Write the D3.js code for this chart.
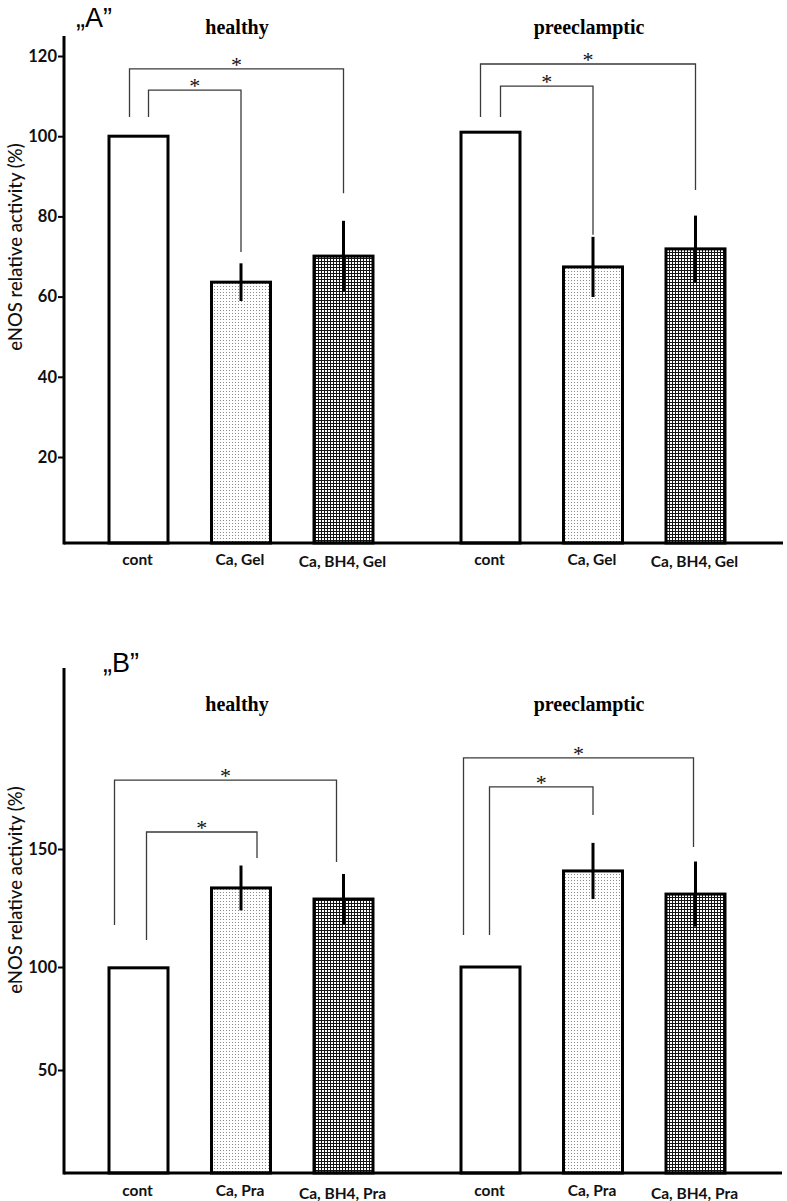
<!DOCTYPE html>
<html><head><meta charset="utf-8">
<script src="https://cdn.jsdelivr.net/npm/d3@7/dist/d3.min.js"></script>
<style>
html,body{margin:0;padding:0;background:#fff;}
svg{display:block;}
</style></head>
<body>
<script>
// ---------------- DATA ----------------
const groups = ["healthy", "preeclamptic"];
const categoriesA = ["cont", "Ca, Gel", "Ca, BH4, Gel"];
const categoriesB = ["cont", "Ca, Pra", "Ca, BH4, Pra"];

const valuesA_healthy = [100, 63.6, 70.1];
const errorsA_healthy = [0, 4.7, 8.8];
const valuesA_pre = [101, 67.4, 71.9];
const errorsA_pre = [0, 7.5, 8.3];

const valuesB_healthy = [99.6, 133.5, 128.8];
const errorsB_healthy = [0, 9.5, 10.6];
const valuesB_pre = [100, 140.7, 130.9];
const errorsB_pre = [0, 11.9, 13.8];

const ticksA = [20, 40, 60, 80, 100, 120];
const ticksB = [50, 100, 150];

// significance brackets: group index, bar from, bar to, level, end of left leg, end of right leg (values)
const bracketsA = [
  [0, 0, 1, 111.5, 104.8, 71.1],
  [0, 0, 2, 116.8, 104.8, 85.8],
  [1, 0, 1, 112.5, 104.8, 75.4],
  [1, 0, 2, 118.0, 104.8, 86.6]
];
const bracketsB = [
  [0, 0, 1, 157.2, 111.4, 146.2],
  [0, 0, 2, 179.2, 117.8, 144.5],
  [1, 0, 1, 176.3, 113.6, 164.4],
  [1, 0, 2, 188.6, 113.6, 150.8]
];

// ---------------- LAYOUT ----------------
const W = 787, H = 1201;
const svg = d3.select("body").append("svg").attr("width", W).attr("height", H);

const defs = svg.append("defs");
const dots = defs.append("pattern").attr("id", "dots").attr("patternUnits", "userSpaceOnUse")
  .attr("width", 3).attr("height", 3);
dots.append("rect").attr("width", 3).attr("height", 3).attr("fill", "#fff");
dots.append("rect").attr("x", 1).attr("y", 1).attr("width", 1).attr("height", 1).attr("fill", "#8a8a8a");
const grid = defs.append("pattern").attr("id", "grid").attr("patternUnits", "userSpaceOnUse")
  .attr("width", 3).attr("height", 3);
grid.append("rect").attr("width", 3).attr("height", 3).attr("fill", "#fff");
grid.append("path").attr("d", "M0,0.5H3M0.5,0V3").attr("stroke", "#151515").attr("stroke-width", 1);

const fills = ["#fff", "url(#dots)", "url(#grid)"];

const groupX = d3.scalePoint().domain(groups).range([241, 593]);
const innerX = d3.scalePoint().domain([0, 1, 2]).range([-102.5, 102.5]);
const barW = 59;

function panel(cfg) {
  const g = svg.append("g");
  const y = d3.scaleLinear().domain(cfg.yDomain).range(cfg.yRange);
  const axisX = 64;
  const base = y(0);

  // panel letter
  g.append("text").attr("x", cfg.letterX).attr("y", cfg.letterY)
    .attr("font-family", "Liberation Sans, Arial, sans-serif").attr("font-size", 27)
    .text(cfg.letter);

  // group titles
  groups.forEach(gr => {
    g.append("text").attr("x", groupX(gr) - 4).attr("y", cfg.titleY)
      .attr("text-anchor", "middle")
      .attr("font-family", "Liberation Serif, Times New Roman, serif")
      .attr("font-weight", "bold").attr("font-size", 20).text(gr);
  });

  // brackets
  cfg.brackets.forEach((b, i) => {
    const [gi, from, to, level, lEnd, rEnd] = b;
    const gx = groupX(groups[gi]);
    const off = cfg.legOffsets[i];
    const x1 = gx + innerX(from) + off[0];
    const x2 = gx + innerX(to) + off[1];
    g.append("path")
      .attr("d", `M${x1},${y(lEnd)}V${y(level)}H${x2}V${y(rEnd)}`)
      .attr("fill", "none").attr("stroke", "#3a3a3a").attr("stroke-width", 1.3);
    g.append("text").attr("x", (x1 + x2) / 2).attr("y", y(level) + 3)
      .attr("text-anchor", "middle")
      .attr("font-family", "Liberation Serif, Times New Roman, serif")
      .attr("font-size", 22).attr("fill", "#111").text("*");
  });

  // bars
  groups.forEach((gr, gi) => {
    const vals = cfg.values[gi], errs = cfg.errors[gi];
    vals.forEach((v, k) => {
      const cx = groupX(gr) + innerX(k);
      g.append("rect").attr("x", cx - barW / 2).attr("y", y(v))
        .attr("width", barW).attr("height", base - y(v))
        .attr("fill", fills[k]).attr("stroke", "#000").attr("stroke-width", 3);
      if (errs[k] > 0) {
        g.append("line").attr("x1", cx).attr("x2", cx)
          .attr("y1", y(v + errs[k])).attr("y2", y(v - errs[k]))
          .attr("stroke", "#000").attr("stroke-width", 3);
      }
      g.append("text").attr("x", cx - 1).attr("y", base + cfg.labelDy[k])
        .attr("text-anchor", "middle").attr("font-family", "Lato, sans-serif")
        .attr("font-weight", "bold").attr("font-size", 15.5).attr("fill", "#111")
        .text(cfg.categories[k]);
    });
  });

  // axes
  g.append("line").attr("x1", axisX).attr("x2", cfg.baseEnd).attr("y1", base).attr("y2", base)
    .attr("stroke", "#000").attr("stroke-width", 3);
  g.append("line").attr("x1", axisX).attr("x2", axisX).attr("y1", cfg.axisTop).attr("y2", base + 1.5)
    .attr("stroke", "#000").attr("stroke-width", 3);
  const ax = g.append("g").attr("transform", `translate(${axisX},0)`)
    .call(d3.axisLeft(y).tickValues(cfg.ticks).tickSize(6).tickPadding(1).tickFormat(d3.format("d")));
  ax.select(".domain").remove();
  ax.selectAll(".tick line").attr("stroke", "#000").attr("stroke-width", 2);
  ax.selectAll(".tick text").attr("font-family", "Lato, sans-serif").attr("font-weight", "bold")
    .attr("font-size", 16.5).attr("fill", "#111");

  // y title
  g.append("text").attr("transform", `translate(22,${cfg.yTitleY}) rotate(-90)`)
    .attr("text-anchor", "middle").attr("font-family", "Lato, sans-serif")
    .attr("font-weight", 500)
    .attr("font-size", 18.5).attr("fill", "#111").text("eNOS relative activity (%)");
}

panel({
  letter: "\u201EA\u201D", letterX: 76, letterY: 27,
  titleY: 34,
  yDomain: [0, 20, 120], yRange: [543, 457, 56],
  axisTop: 36, baseEnd: 783,
  ticks: ticksA,
  categories: categoriesA,
  values: [valuesA_healthy, valuesA_pre],
  errors: [errorsA_healthy, errorsA_pre],
  brackets: bracketsA,
  legOffsets: [[10, 0], [-9, 0], [10, 0], [-10, 0]],
  labelDy: [22, 22, 24],
  yTitleY: 247
});

panel({
  letter: "\u201EB\u201D", letterX: 103, letterY: 672,
  titleY: 711,
  yDomain: [0, 50, 100, 150], yRange: [1173, 1070, 967, 849],
  axisTop: 668, baseEnd: 782,
  ticks: ticksB,
  categories: categoriesB,
  values: [valuesB_healthy, valuesB_pre],
  errors: [errorsB_healthy, errorsB_pre],
  brackets: bracketsB,
  legOffsets: [[8, 16], [-24, -7], [-1, 0], [-27, -2]],
  labelDy: [23, 23, 26],
  yTitleY: 890
});
</script>
</body></html>
